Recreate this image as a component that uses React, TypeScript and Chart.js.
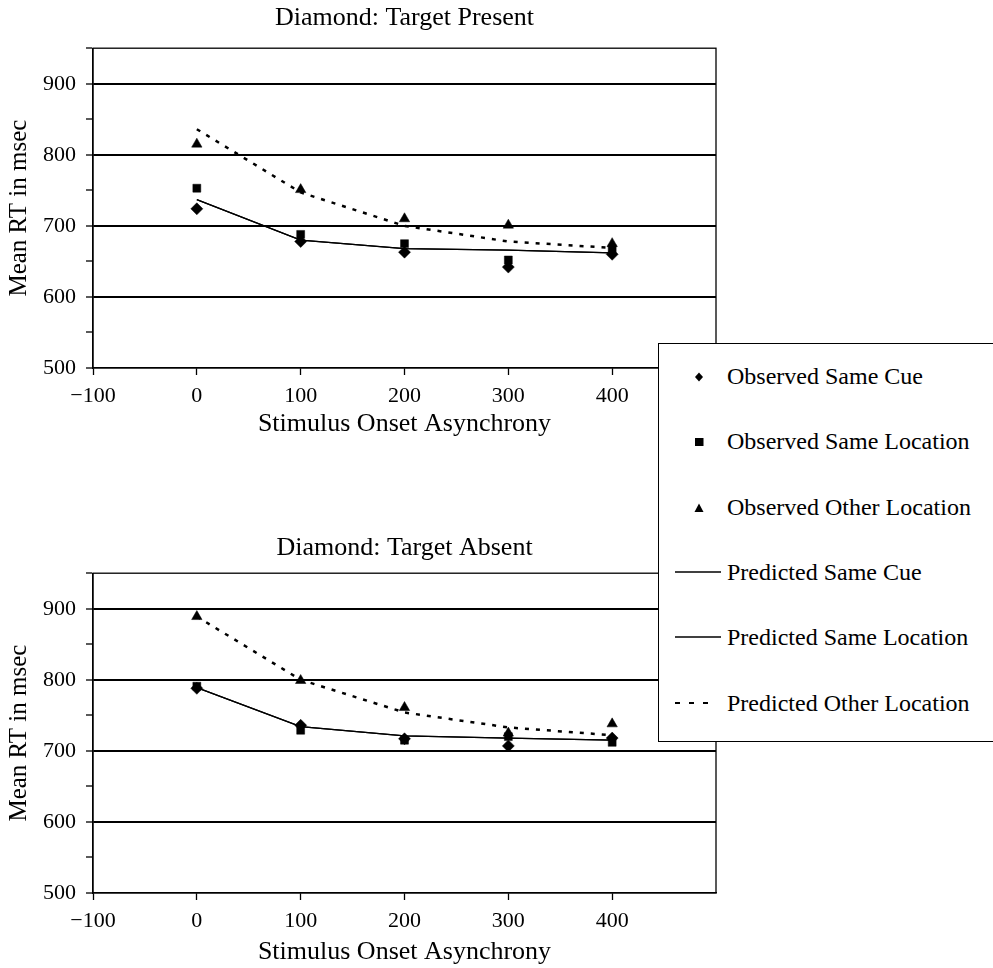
import React, { useEffect, useRef } from 'react';
import { Chart, registerables } from 'chart.js';
Chart.register(...registerables);

const FONT = "'Liberation Serif', 'Times New Roman', serif";

// SOA values (x)
const soa = [0, 100, 200, 300, 400];
const xTickValues = [-100, 0, 100, 200, 300, 400, 500];

// Target Present
const presentObsSameCue = [724, 678, 663, 642, 660];
const presentObsSameLoc = [753, 688, 675, 652, 668];
const presentObsOtherLoc = [815, 751, 710, 701, 675];
const presentPredSameCue = [737, 680, 668, 666, 662];
const presentPredSameLoc = [737, 680, 668, 666, 662];
const presentPredOtherLoc = [836, 747, 700, 678, 669];

// Target Absent
const absentObsSameCue = [788, 736, 717, 707, 718];
const absentObsSameLoc = [791, 729, 715, 720, 712];
const absentObsOtherLoc = [889, 799, 761, 725, 738];
const absentPredSameCue = [789, 734, 721, 718, 715];
const absentPredSameLoc = [789, 734, 721, 718, 715];
const absentPredOtherLoc = [889, 800, 754, 733, 722];

const legendLabels = [
  'Observed Same Cue',
  'Observed Same Location',
  'Observed Other Location',
  'Predicted Same Cue',
  'Predicted Same Location',
  'Predicted Other Location',
];

const pts = (ys: number[]) => ys.map((y, i) => ({ x: soa[i], y }));

const framePlugin = {
  id: 'frame',
  beforeDatasetsDraw(chart: any) {
    const { ctx, chartArea } = chart;
    const { left, top, right, bottom } = chartArea;
    ctx.save();
    ctx.strokeStyle = '#000';
    ctx.lineWidth = 1.3;
    ctx.strokeRect(left, top, right - left, bottom - top);
    ctx.restore();
  },
};

function makeConfig(
  title: string,
  series: number[][],
  titlePad: { top: number; bottom: number },
  xAxisHeight: number,
  xTitlePadBottom: number
): any {
  const [oc, ol, oo, pc, pl, po] = series;
  const obs = (label: string, data: number[], style: string, r: number) => ({
    label,
    data: pts(data),
    showLine: false,
    pointStyle: style,
    pointRadius: r,
    pointBorderWidth: 0.5,
    pointBackgroundColor: '#000',
    pointBorderColor: '#000',
    backgroundColor: '#000',
    borderColor: '#000',
  });
  const pred = (label: string, data: number[], dashed: boolean) => ({
    label,
    data: pts(data),
    showLine: true,
    pointRadius: 0,
    borderColor: '#000',
    borderWidth: dashed ? 2.5 : 1.3,
    borderDash: dashed ? [4, 7] : [],
    tension: 0,
    fill: false,
  });
  return {
    type: 'line',
    data: {
      datasets: [
        obs(legendLabels[0], oc, 'rectRot', 6),
        obs(legendLabels[1], ol, 'rect', 5.6),
        obs(legendLabels[2], oo, 'triangle', 6),
        pred(legendLabels[3], pc, false),
        pred(legendLabels[4], pl, false),
        pred(legendLabels[5], po, true),
      ],
    },
    options: {
      responsive: false,
      animation: false,
      devicePixelRatio: 1,
      layout: { padding: { left: 0, right: 277, top: 0, bottom: 0 } },
      plugins: {
        legend: { display: false },
        tooltip: { enabled: false },
        title: {
          display: true,
          text: title,
          fullSize: false,
          color: '#000',
          font: { family: FONT, size: 26, weight: 'normal', lineHeight: 1.2 },
          padding: titlePad,
        },
      },
      scales: {
        x: {
          type: 'linear',
          min: -100,
          max: 500,
          afterBuildTicks: (s: any) => {
            s.ticks = xTickValues.map((v) => ({ value: v }));
          },
          afterFit: (s: any) => {
            s.height = xAxisHeight;
          },
          ticks: {
            autoSkip: false,
            maxRotation: 0,
            padding: 8,
            color: '#000',
            font: { family: FONT, size: 22 },
            callback: (v: any) => (v === 500 ? '' : v < 0 ? '\u2212' + -v : String(v)),
          },
          grid: {
            drawOnChartArea: false,
            tickLength: 7,
            tickWidth: 1.3,
            tickColor: (c: any) => (c.tick && c.tick.value === 500 ? 'rgba(0,0,0,0)' : '#000'),
          },
          border: { display: true, color: '#000', width: 1.3 },
          title: {
            display: true,
            text: 'Stimulus Onset Asynchrony',
            color: '#000',
            font: { family: FONT, size: 26, lineHeight: 1.2 },
            padding: { top: 0, bottom: xTitlePadBottom },
          },
        },
        y: {
          min: 500,
          max: 950,
          afterFit: (s: any) => {
            s.width = 93;
          },
          ticks: {
            stepSize: 50,
            autoSkip: false,
            padding: 10,
            color: '#000',
            font: { family: FONT, size: 22 },
            callback: (v: any) => (v % 100 === 0 ? String(v) : ''),
          },
          grid: {
            drawOnChartArea: true,
            color: (c: any) => {
              const v = c.tick ? c.tick.value : 0;
              return v % 100 === 0 && v > 500 && v < 950 ? '#000' : 'rgba(0,0,0,0)';
            },
            lineWidth: 2,
            tickLength: 7,
            tickWidth: 1.3,
            tickColor: '#000',
          },
          border: { display: true, color: '#000', width: 1.3 },
          title: {
            display: true,
            text: 'Mean RT in msec',
            color: '#000',
            font: { family: FONT, size: 25, lineHeight: 1.2 },
            padding: { top: 4, bottom: 0 },
          },
        },
      },
    },
    plugins: [framePlugin],
  };
}

function ChartCanvas({ config, width, height }: { config: any; width: number; height: number }) {
  const ref = useRef<HTMLCanvasElement | null>(null);
  useEffect(() => {
    if (!ref.current) return;
    const chart = new Chart(ref.current, config);
    return () => chart.destroy();
  }, []);
  return <canvas ref={ref} width={width} height={height} style={{ display: 'block', width, height }} />;
}

function Marker({ kind }: { kind: number }) {
  const svgStyle = { display: 'block' };
  if (kind === 0)
    return (
      <svg width="14" height="14" viewBox="0 0 14 14" style={svgStyle}>
        <polygon points="7,2.5 11,7 7,11.5 3,7" fill="#000" />
      </svg>
    );
  if (kind === 1)
    return (
      <svg width="14" height="14" viewBox="0 0 14 14" style={svgStyle}>
        <rect x="3" y="3" width="8.5" height="8" fill="#000" />
      </svg>
    );
  if (kind === 2)
    return (
      <svg width="14" height="14" viewBox="0 0 14 14" style={svgStyle}>
        <polygon points="7,2.5 11.5,11 2.5,11" fill="#000" />
      </svg>
    );
  const dashed = kind === 5;
  const w = dashed ? 35 : 46;
  return (
    <svg width={w} height="6" viewBox={`0 0 ${w} 6`} style={svgStyle}>
      <line
        x1="0"
        y1="3"
        x2={w}
        y2="3"
        stroke="#000"
        strokeWidth={dashed ? 2 : 1.3}
        strokeDasharray={dashed ? '5 9' : undefined}
      />
    </svg>
  );
}

function Legend() {
  const centers = [32, 97, 163, 228, 293, 359];
  return (
    <div
      style={{
        position: 'absolute',
        left: 658,
        top: 343,
        width: 345,
        height: 399,
        boxSizing: 'border-box',
        border: '1.5px solid #000',
        background: '#fff',
        zIndex: 5,
        fontFamily: FONT,
        fontSize: 24,
        color: '#000',
      }}
    >
      {legendLabels.map((lab, i) => (
        <div key={lab} style={{ position: 'absolute', left: 0, top: centers[i] - 15, height: 30, width: 340 }}>
          {i < 3 ? (
            <div style={{ position: 'absolute', left: 33, top: 9 }}>
              <Marker kind={i} />
            </div>
          ) : (
            <div style={{ position: 'absolute', left: 16, top: 12 }}>
              <Marker kind={i} />
            </div>
          )}
          <div style={{ position: 'absolute', left: 68, top: 0, lineHeight: '30px', whiteSpace: 'nowrap' }}>{lab}</div>
        </div>
      ))}
    </div>
  );
}

export default function App() {
  const topConfig = makeConfig(
    'Diamond: Target Present',
    [presentObsSameCue, presentObsSameLoc, presentObsOtherLoc, presentPredSameCue, presentPredSameLoc, presentPredOtherLoc],
    { top: 3, bottom: 14 },
    82,
    10
  );
  const bottomConfig = makeConfig(
    'Diamond: Target Absent',
    [absentObsSameCue, absentObsSameLoc, absentObsOtherLoc, absentPredSameCue, absentPredSameLoc, absentPredOtherLoc],
    { top: 33, bottom: 9 },
    75,
    0
  );
  return (
    <div style={{ position: 'absolute', left: 0, top: 0, width: 993, height: 968, background: '#fff', overflow: 'hidden' }}>
      <div style={{ position: 'absolute', left: 0, top: 0 }}>
        <ChartCanvas config={topConfig} width={993} height={450} />
      </div>
      <div style={{ position: 'absolute', left: 0, top: 500 }}>
        <ChartCanvas config={bottomConfig} width={993} height={468} />
      </div>
      <Legend />
    </div>
  );
}
